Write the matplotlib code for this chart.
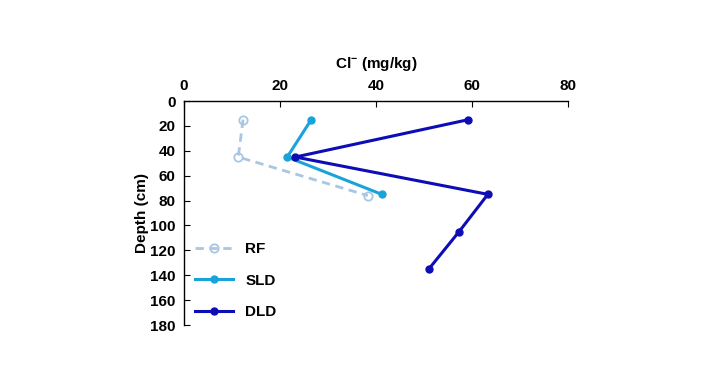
import matplotlib
matplotlib.use("Agg")
from matplotlib import pyplot as plt

plt.rcParams['font.family'] = ['Liberation Sans', 'DejaVu Sans']
plt.rcParams['mathtext.default'] = 'regular'

# Cl- concentration (mg/kg) by depth (cm)
rf_depth = [15, 45, 76]
rf_cl = [12.3, 11.3, 38.3]
sld_depth = [15, 45, 75]
sld_cl = [26.5, 21.5, 41.2]
dld_depth = [15, 45, 75, 105, 135]
dld_cl = [59.2, 23.2, 63.3, 57.3, 51.0]

fig = plt.figure(figsize=(7.2, 3.75), dpi=100)
ax = fig.add_axes([0.2556, 0.1333, 0.5333, 0.5973])

ax.plot(rf_cl, rf_depth, color='#a9c6e3', lw=2, ls=(0, (3, 2)), marker='o',
        ms=6, mfc='none', mec='#a9c6e3', mew=1.3, label='RF')
ax.plot(sld_cl, sld_depth, color='#1aa3d9', lw=2.2, marker='o', ms=5,
        label='SLD')
ax.plot(dld_cl, dld_depth, color='#0d0db5', lw=2.2, marker='o', ms=5,
        label='DLD')

ax.set_xlim(0, 80)
ax.set_ylim(180, 0)
ax.set_xticks(range(0, 81, 20))
ax.set_yticks(range(0, 181, 20))
ax.xaxis.tick_top()
ax.xaxis.set_label_position('top')
ax.tick_params(direction='in', length=4, labelsize=11, width=0.8)
ax.tick_params(axis='x', pad=6)
ax.tick_params(axis='y', pad=6)
for lab in ax.get_xticklabels() + ax.get_yticklabels():
    lab.set_fontweight('bold')
ax.set_xlabel('Cl$^{-}$ (mg/kg)', fontsize=11, fontweight='bold',
              labelpad=8)
ax.set_ylabel('Depth (cm)', fontsize=11, fontweight='bold', labelpad=1)

for s in ['right', 'bottom']:
    ax.spines[s].set_visible(False)
for s in ['left', 'top']:
    ax.spines[s].set_linewidth(1)

ax.legend(loc='lower left', frameon=False, prop={'size': 11, 'weight': 'bold'},
          labelspacing=1.15, handlelength=2.5, borderaxespad=0.3,
          bbox_to_anchor=(0.0, -0.022))

fig.savefig('out.png', dpi=100)
